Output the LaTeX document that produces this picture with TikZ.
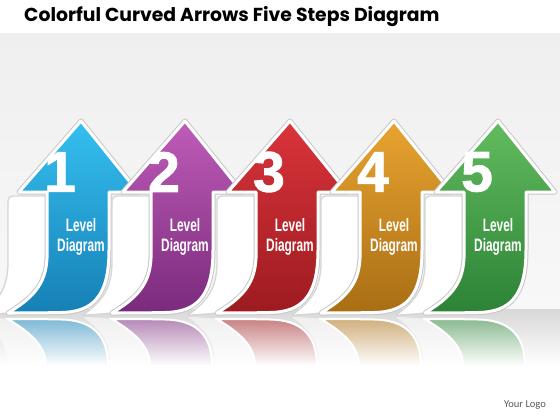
\documentclass[tikz,border=0pt]{standalone}
\usepackage{fontspec}
\setmainfont{Liberation Sans}
\newfontfamily\titlefont{Poppins}
\newfontfamily\condfont[FakeStretch=0.66]{Liberation Sans}
\newfontfamily\numfont[FakeBold=1.5]{Liberation Sans}
\newfontfamily\logofont{Carlito}
\definecolor{c1t}{HTML}{35BFF0}\definecolor{c1b}{HTML}{1680B5}
\definecolor{c2t}{HTML}{BF5CB8}\definecolor{c2b}{HTML}{7A2A7C}
\definecolor{c3t}{HTML}{DA343B}\definecolor{c3b}{HTML}{9C1B20}
\definecolor{c4t}{HTML}{E8A431}\definecolor{c4b}{HTML}{A96E14}
\definecolor{c5t}{HTML}{62BC5E}\definecolor{c5b}{HTML}{2C8236}
\definecolor{bgtop}{HTML}{EFEFEF}\definecolor{bgbot}{HTML}{F8F8F8}
\definecolor{floor}{HTML}{D8D8D8}
\tikzset{
  ribbonshape/.style={fill=white,draw=black!16,line width=1.3pt,line join=round},
  arrowshape/.style={preaction={draw=black!22,line width=5pt,line join=round},
    draw=white,line width=3pt,line join=round},
  numtext/.style={text=white,font=\numfont\bfseries\fontsize{57}{57}\selectfont,inner sep=0pt},
  lvltext/.style={text=white,align=center,font=\condfont\bfseries\fontsize{18}{20}\selectfont,inner sep=0pt},
}
\newcommand\drawstep[4]{%
  \begin{scope}[shift={(#1,0)}]
    % reflections
    \begin{scope}
      \clip (-110,316) rectangle (80,368);
      \path[fill=white,opacity=0.55] (-33,366) .. controls (-33,345) and (-50,332) .. (-71,319)
        .. controls (-82,318) and (-92,317) .. (-100,317)
        .. controls (-82,330) and (-72,342) .. (-72,366) -- cycle;
      \path[top color=#3!55!white,bottom color=white,draw=white,line width=2pt]
        (29,366) .. controls (29,334) and (12,320) .. (-18,319.5)
        .. controls (-40,319) and (-58,319) .. (-71,319)
        .. controls (-50,332) and (-33,345) .. (-33,366) -- cycle;
    \end{scope}
    % ribbon back
    \path[ribbonshape] (-32,196) -- (-32,258) .. controls (-33,287) and (-50,300) .. (-71,313)
      .. controls (-82,314) and (-92,315) .. (-100,315)
      .. controls (-82,302) and (-71,290) .. (-71,262) -- (-71,201)
      .. controls (-71,198) and (-69,196) .. (-66,196) -- cycle;
    % arrow
    \path[arrowshape,top color=#2,bottom color=#3]
      (2,121) -- (59,192) -- (30,192) -- (30,250)
      .. controls (30,296) and (14,312) .. (-18,312.5)
      .. controls (-40,313) and (-58,313) .. (-71,313)
      .. controls (-50,300) and (-33,287) .. (-32,258) -- (-32,192) -- (-60,192) -- cycle;
    \node[numtext] (num#4) at (-19,172) {#4};
    \node[lvltext] (lvl#4) at (2,237) {Level\\Diagram};
  \end{scope}}
\begin{document}
\begin{tikzpicture}[x=1pt,y=-1pt]
  \useasboundingbox (0,0) rectangle (560,420);
  \fill[white] (0,0) rectangle (560,420);
  \shade[top color=bgtop,bottom color=bgbot] (0,34) rectangle (560,309);
  \shade[top color=floor,bottom color=white] (0,309) rectangle (560,366);
  \node[anchor=base west,inner sep=0pt,font=\titlefont\bfseries\fontsize{18.8}{20}\selectfont] (title) at (24,22) {Colorful Curved Arrows Five Steps Diagram};
  \drawstep{79}{c1t}{c1b}{1}
  \drawstep{183}{c2t}{c2b}{2}
  \drawstep{288}{c3t}{c3b}{3}
  \drawstep{392}{c4t}{c4b}{4}
  \drawstep{496}{c5t}{c5b}{5}
  \node[font=\logofont\fontsize{10.5}{12}\selectfont,text=black!65,inner sep=0pt] (logo) at (525,405) {Your Logo};
\end{tikzpicture}
\end{document}
